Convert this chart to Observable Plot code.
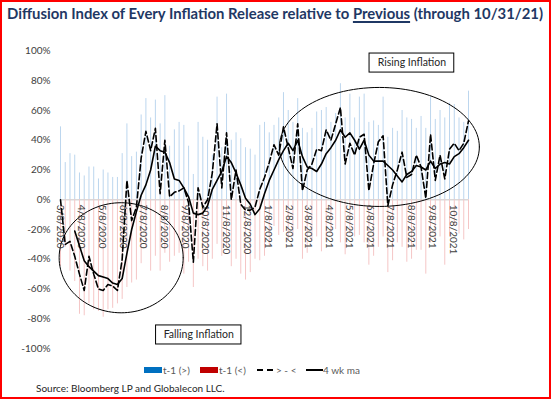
<!DOCTYPE html>
<html>
<head>
<meta charset="utf-8">
<script src="https://cdn.jsdelivr.net/npm/d3@7"></script>
<script src="https://cdn.jsdelivr.net/npm/@observablehq/plot@0.6"></script>
<style>
html, body { margin: 0; padding: 0; background: #fff; }
#wrap { position: relative; width: 551px; height: 399px; overflow: hidden; font-family: Lato, sans-serif; background: #fff; }
#frame { position: absolute; left: 0; top: 0; width: 551px; height: 399px; box-sizing: border-box; border: 2px solid #ff0000; pointer-events: none; }
#title { position: absolute; left: 7px; top: 6px; white-space: nowrap; font-weight: bold; font-size: 15px; line-height: 15px; color: #1f3864; transform-origin: 0 0; }
#title u { text-decoration-thickness: 1.5px; text-underline-offset: 2px; }
#chart { position: absolute; left: 0; top: 38px; }
.lg { position: absolute; }
.lt { position: absolute; font-size: 10px; line-height: 12px; color: #595959; white-space: nowrap; }
#source { position: absolute; left: 36px; top: 382px; font-size: 10px; line-height: 12px; color: #262626; white-space: nowrap; }
</style>
</head>
<body>
<div id="wrap">
  <div id="title">Diffusion Index of Every Inflation Release relative to <u>Previous</u> (through 10/31/21)</div>
  <div id="chart"></div>
  <div class="lg" style="left:144px;top:367px;width:18px;height:6px;background:#0070C0"></div>
  <div class="lt" style="left:163px;top:363.5px">t-1 (&gt;)</div>
  <div class="lg" style="left:200px;top:367px;width:18px;height:6px;background:#C00000"></div>
  <div class="lt" style="left:219px;top:363.5px">t-1 (&lt;)</div>
  <div class="lg" style="left:257px;top:369px;width:6px;height:2px;background:#000"></div>
  <div class="lg" style="left:267px;top:369px;width:6px;height:2px;background:#000"></div>
  <div class="lt" style="left:276px;top:363.5px">&gt; - &lt;</div>
  <div class="lg" style="left:306px;top:369px;width:17px;height:2px;background:#000"></div>
  <div class="lt" style="left:323px;top:363.5px">4 wk ma</div>
  <div id="source">Source: Bloomberg LP and Globalecon LLC.</div>
  <div id="frame"></div>
</div>
<script>
// ---- data (weekly, first week 3/8/2020, last 10/31/2021) ----
const firstWeek = "2020-03-08";
const blueUp = [
  0.49,0.25,0.31,0.30,0.18,0.16,0.22,0.22,0.14,0.20,
  0.18,0.15,0.15,0.31,0.51,0.29,0.32,0.57,0.68,0.55,
  0.67,0.51,0.70,0.36,0.47,0.52,0.50,0.36,0.17,0.52,
  0.42,0.40,0.30,0.69,0.35,0.71,0.40,0.45,0.41,0.35,
  0.34,0.30,0.50,0.52,0.45,0.50,0.55,0.72,0.60,0.52,
  0.68,0.48,0.45,0.48,0.59,0.60,0.62,0.52,0.58,0.78,
  0.55,0.71,0.55,0.69,0.71,0.52,0.53,0.50,0.69,0.42,
  0.48,0.46,0.60,0.55,0.54,0.48,0.56,0.48,0.69,0.54,
  0.60,0.55,0.65,0.64,0.55,0.52,0.73
];
const redDown = [
  0.45,0.32,0.48,0.55,0.77,0.78,0.70,0.74,0.75,0.79,
  0.74,0.73,0.70,0.67,0.59,0.56,0.54,0.43,0.33,0.48,
  0.38,0.48,0.36,0.42,0.38,0.36,0.50,0.42,0.59,0.40,
  0.45,0.48,0.40,0.30,0.38,0.32,0.45,0.40,0.50,0.54,
  0.49,0.40,0.41,0.38,0.32,0.18,0.24,0.22,0.28,0.25,
  0.20,0.40,0.36,0.28,0.25,0.35,0.27,0.23,0.20,0.29,
  0.37,0.23,0.25,0.24,0.29,0.44,0.38,0.32,0.25,0.49,
  0.41,0.29,0.32,0.42,0.40,0.34,0.34,0.50,0.29,0.27,
  0.25,0.44,0.25,0.18,0.23,0.27,0.20
];
const netDiff = [
  0.00,-0.30,-0.28,-0.38,-0.50,-0.61,-0.38,-0.50,-0.60,-0.61,
  -0.57,-0.58,-0.61,-0.40,0.13,-0.14,-0.05,0.28,0.46,0.33,
  0.48,0.04,0.40,0.02,0.05,0.06,0.08,-0.02,-0.42,0.08,
  -0.05,0.00,0.18,0.51,0.08,0.45,0.00,0.20,-0.03,-0.07,
  -0.07,-0.05,0.07,0.15,0.25,0.37,0.30,0.49,0.35,0.21,
  0.51,0.06,0.20,0.24,0.34,0.33,0.47,0.40,0.51,0.62,
  0.24,0.38,0.30,0.42,0.44,0.06,0.24,0.39,0.43,-0.04,
  0.10,0.20,0.32,0.15,0.17,0.30,0.22,0.01,0.44,0.13,
  0.30,0.14,0.34,0.38,0.33,0.38,0.53
];
const ma4 = [
  null,null,null,-0.21,-0.31,-0.41,-0.45,-0.48,-0.51,-0.52,
  -0.53,-0.56,-0.57,-0.53,-0.36,-0.20,-0.08,0.03,0.10,0.20,
  0.36,0.33,0.32,0.25,0.14,0.13,0.08,0.02,-0.09,-0.10,
  -0.09,-0.04,0.07,0.13,0.19,0.29,0.25,0.18,0.10,0.01,
  -0.03,-0.10,-0.06,0.04,0.13,0.20,0.27,0.33,0.38,0.33,
  0.40,0.29,0.22,0.21,0.19,0.24,0.31,0.35,0.40,0.47,
  0.42,0.45,0.40,0.34,0.40,0.30,0.26,0.26,0.26,0.23,
  0.20,0.16,0.12,0.17,0.19,0.23,0.22,0.20,0.26,0.21,
  0.24,0.25,0.24,0.29,0.31,0.35,0.40
];
const xTickLabels = [
  "3/8/2020","4/8/2020","5/8/2020","6/8/2020","7/8/2020","8/8/2020","9/8/2020",
  "10/8/2020","11/8/2020","12/8/2020","1/8/2021","2/8/2021","3/8/2021","4/8/2021",
  "5/8/2021","6/8/2021","7/8/2021","8/8/2021","9/8/2021","10/8/2021"
];
const yTicks = [-1,-0.8,-0.6,-0.4,-0.2,0,0.2,0.4,0.6,0.8,1];
const seriesNames = ["t-1 (>)", "t-1 (<)", "> - <", "4 wk ma"];
// annotations, in data units
const ellipses = [
  {name: "falling", x1: "2020-03-06", x2: "2020-09-05", y1: -0.76, y2: -0.02},
  {name: "rising",  x1: "2021-01-25", x2: "2021-11-16", y1: -0.045, y2: 0.755}
];
const boxes = [
  {label: "Rising Inflation",  x1: "2021-06-07", x2: "2021-10-10", y1: 0.855, y2: 0.983},
  {label: "Falling Inflation", x1: "2020-07-27", x2: "2020-11-30", y1: -0.973, y2: -0.845}
];

// ---- build ----
const start = new Date(firstWeek + "T00:00:00Z");
const rows = blueUp.map((b, i) => ({
  date: d3.utcDay.offset(start, 7 * i),
  up: b, down: -redDown[i], diff: netDiff[i], ma: ma4[i]
}));
const parseMDY = s => { const [m, d, y] = s.split("/").map(Number); return new Date(Date.UTC(y, m - 1, d)); };
const ticks = xTickLabels.map(l => ({date: parseMDY(l), label: l}));
const toDate = s => new Date(s + "T00:00:00Z");
const ellPts = [];
for (const e of ellipses) {
  const a = toDate(e.x1).getTime(), b = toDate(e.x2).getTime();
  const cx = (a + b) / 2, rx = (b - a) / 2, cy = (e.y1 + e.y2) / 2, ry = (e.y2 - e.y1) / 2;
  for (let k = 0; k <= 120; k++) {
    const t = (k / 120) * 2 * Math.PI;
    ellPts.push({name: e.name, x: new Date(cx + rx * Math.cos(t)), y: cy + ry * Math.sin(t)});
  }
}
const boxRows = boxes.map(b => ({
  label: b.label, x1: toDate(b.x1), x2: toDate(b.x2), y1: b.y1, y2: b.y2,
  xc: new Date((toDate(b.x1).getTime() + toDate(b.x2).getTime()) / 2), yc: (b.y1 + b.y2) / 2
}));

const chart = Plot.plot({
  width: 551, height: 322,
  marginTop: 12.5, marginBottom: 12, marginLeft: 60, marginRight: 83,
  style: {fontFamily: "Lato, sans-serif", fontSize: "10px", color: "#404040", background: "transparent", overflow: "visible"},
  x: {type: "utc", domain: [rows[0].date, rows[rows.length - 1].date], axis: null},
  y: {domain: [-1, 1], ticks: yTicks, tickFormat: d => Math.round(d * 100) + "%", tickSize: 0, tickPadding: 10, label: null},
  marks: [
    Plot.ruleY([0], {stroke: "#d9d9d9", strokeWidth: 1.5}),
    Plot.ruleX(rows, {x: "date", y1: 0, y2: "up", stroke: "#bcd6ee", strokeWidth: 1, title: () => seriesNames[0]}),
    Plot.ruleX(rows, {x: "date", y1: 0, y2: "down", stroke: "#f5c6c6", strokeWidth: 1, title: () => seriesNames[1]}),
    Plot.line(ellPts, {x: "x", y: "y", z: "name", stroke: "#000", strokeWidth: 1}),
    Plot.text(ticks, {x: "date", y: 0, text: "label", rotate: 90, textAnchor: "start", dy: 5, fontSize: 10, fill: "#404040"}),
    Plot.line(rows, {x: "date", y: "diff", stroke: "#000", strokeWidth: 1.6, strokeDasharray: "6,3"}),
    Plot.line(rows.filter(r => r.ma !== null), {x: "date", y: "ma", stroke: "#000", strokeWidth: 1.6}),
    Plot.rect(boxRows, {x1: "x1", x2: "x2", y1: "y1", y2: "y2", fill: "#fff", stroke: "#000", strokeWidth: 1}),
    Plot.text(boxRows, {x: "xc", y: "yc", text: "label", fontSize: 10.5, fill: "#262626"})
  ]
});
document.getElementById("chart").appendChild(chart);

// fit title to its original width
const title = document.getElementById("title");
const w = title.getBoundingClientRect().width;
title.style.transform = `scaleX(${536 / w})`;
</script>
</body>
</html>
